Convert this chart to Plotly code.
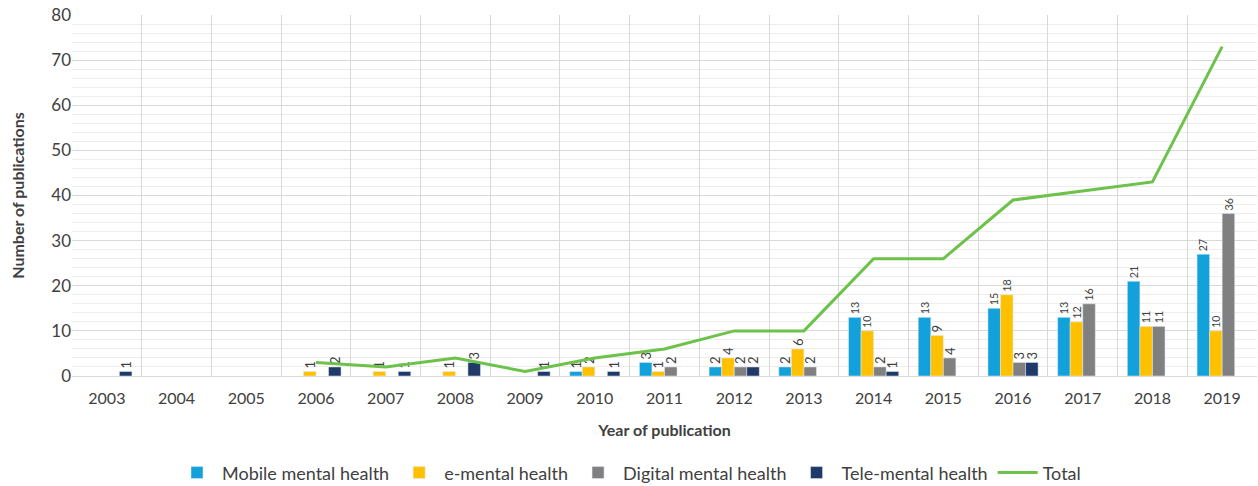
import plotly.graph_objects as go

years = [str(y) for y in range(2003, 2020)]
mobile = [None, None, None, None, None, None, None, 1, 3, 2, 2, 13, 13, 15, 13, 21, 27]
ementa = [None, None, None, 1, 1, 1, None, 2, 1, 4, 6, 10, 9, 18, 12, 11, 10]
digital = [None, None, None, None, None, None, None, None, 2, 2, 2, 2, 4, 3, 16, 11, 36]
tele = [1, None, None, 2, 1, 3, 1, 1, None, 2, None, 1, None, 3, None, None, None]
total = [None, None, None, 3, 2, 4, 1, 4, 6, 10, 10, 26, 26, 39, 41, 43, 73]

FONT = "Lato"
fig = go.Figure()
series = [("Mobile mental health", mobile, "#13A1DB"),
          ("e-mental health", ementa, "#FFC000"),
          ("Digital mental health", digital, "#808080"),
          ("Tele-mental health", tele, "#1F3A68")]
for name, vals, col in series:
    fig.add_trace(go.Bar(
        x=years, y=vals, name=name, marker_color=col,
        text=[("" if v is None else str(v)) for v in vals],
        textposition="outside", textangle=-90, cliponaxis=False,
        textfont=dict(size=13, color="#404040", family=FONT),
    ))
fig.add_trace(go.Scatter(x=years, y=total, name="Total", mode="lines",
                         line=dict(color="#6CC24A", width=3)))

fig.update_layout(
    width=1258, height=486,
    margin=dict(l=72, r=1, t=15, b=110, autoexpand=False),
    paper_bgcolor="white", plot_bgcolor="white",
    barmode="group", bargap=0.28, bargroupgap=0,
    font=dict(family=FONT, color="#595959"),
    showlegend=True,
    legend=dict(orientation="h", x=0.5, xanchor="center", xref="container",
                y=0.027, yanchor="middle", yref="container",
                font=dict(size=18, color="#404040"), traceorder="normal",
                itemwidth=40, tracegroupgap=0),
)
fig.update_xaxes(type="category", tickson="boundaries", showgrid=True,
                 gridcolor="#D9D9D9", gridwidth=1, ticks="", ticklabelstandoff=8,
                 tickfont=dict(size=16, color="#404040"),
                 showline=True, linecolor="#D9D9D9", automargin=False,
                 title=dict(text="<b>Year of publication</b>", font=dict(size=16, color="#404040"), standoff=18))
fig.update_yaxes(range=[0, 80], dtick=10, showgrid=True, gridcolor="#D9D9D9",
                 minor=dict(dtick=2, showgrid=True, gridcolor="#EDEDED"),
                 tickfont=dict(size=17, color="#404040"), zeroline=False, automargin=False,
                 title=dict(text="<b>Number of publications</b>", font=dict(size=16, color="#404040"), standoff=22))
fig.write_html("out.html")
